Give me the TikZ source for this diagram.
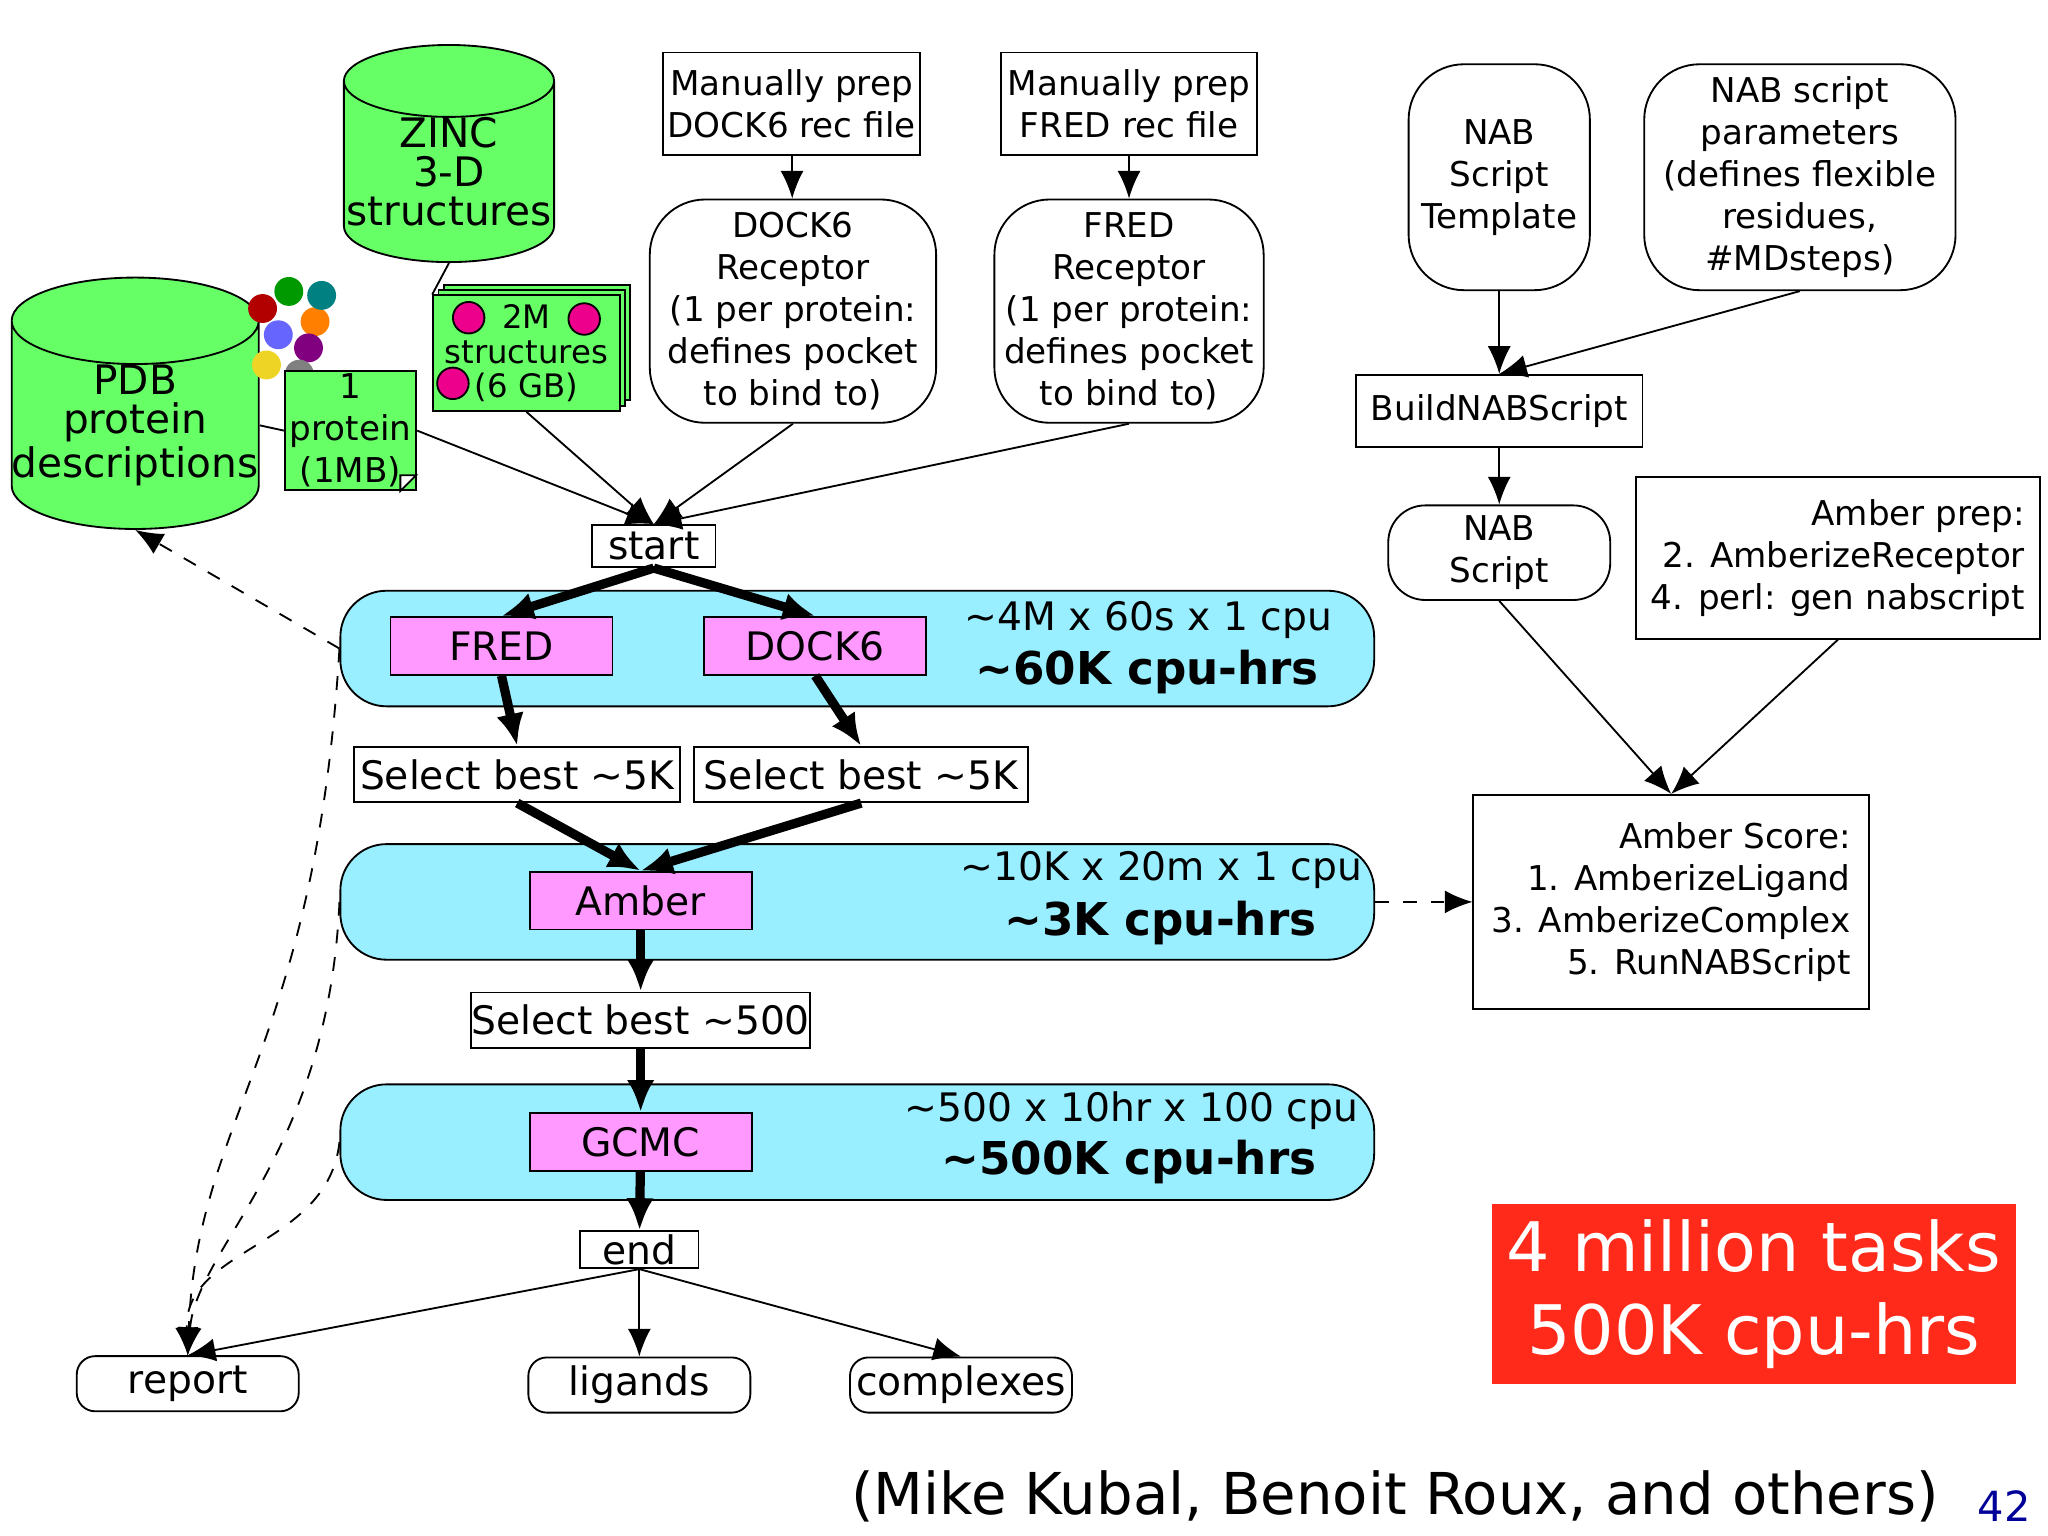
\documentclass[tikz,border=0pt]{standalone}
\usepackage{fontspec}
\setmainfont{DejaVu Sans}
\usetikzlibrary{shapes.geometric,shapes.misc,arrows.meta,positioning}
\definecolor{zgreen}{HTML}{66FF66}
\definecolor{band}{HTML}{99EEFF}
\definecolor{stage}{HTML}{FF99FF}
\definecolor{redbox}{HTML}{FF2A1A}
\tikzset{
  fs/.style={font=\fontsize{7.4}{9.1}\selectfont},
  fm/.style={font=\fontsize{8.5}{9.5}\selectfont},
  box/.style={draw,fs,align=center,inner sep=1pt},
  rbox/.style={box,rounded corners=12pt},
  stagebox/.style={draw,fill=stage,fm,minimum width=1.69cm,minimum height=0.44cm,inner sep=0pt},
  bandbox/.style={draw,fill=band,rounded corners=10pt,minimum width=7.87cm,minimum height=0.88cm,inner sep=0pt},
  sel/.style={draw,fm,inner sep=0pt,minimum height=0.42cm},
  result/.style={draw,fm,rounded corners=4pt,minimum width=1.69cm,minimum height=0.42cm,inner sep=0pt},
  tarr/.style={-{Latex[length=6pt,width=5pt]},thin},
  thick arr/.style={-{Latex[length=7pt,width=6pt]},line width=2pt},
  darr/.style={-{Latex[length=6pt,width=5pt]},dashed,thin},
  can/.style={draw,cylinder,shape border rotate=90,aspect=0.35,fill=zgreen,font=\fontsize{8.8}{8.4}\selectfont,align=center,inner sep=0pt},
  doc/.style={draw,fill=zgreen,fs,align=center,inner sep=0pt}
}
\begin{document}
\begin{tikzpicture}[x=0.01cm,y=-0.01cm]
\useasboundingbox (0,0) rectangle (1560,1170);
% sources
\node[can,minimum width=1.6cm,minimum height=1.65cm] (zinc) at (342,131) {ZINC\\3-D\\structures};
\node[can,minimum width=1.87cm,minimum height=1.53cm] (pdb) at (103,324) {PDB\\protein\\descriptions};
% protein picture
\foreach \x/\y/\c in {200/235/red!70!black,220/222/green!60!black,240/245/orange,212/255/blue!60,235/265/violet,203/278/yellow!70!brown,245/225/teal,228/285/gray}
  \fill[\c] (\x,\y) circle (11);
\foreach \o in {8,4} \draw[fill=zgreen] (330+\o,225-\o) rectangle (472+\o,313-\o);
\node[doc,minimum width=1.42cm,minimum height=0.88cm,font=\fontsize{7}{7.4}\selectfont] (twom) at (401,269) {2M\\structures\\(6 GB)};
\foreach \x/\y in {357/242,445/243,345/292} \draw[fill=magenta] (\x,\y) circle (12);
\node[doc,minimum width=1cm,minimum height=0.91cm] (prot) at (267,328) {1\\protein\\(1MB)};
\draw[fill=white] (317,362) -- (305,374) -- (305,362) -- cycle;
% receptors
\node[box,minimum width=1.95cm,minimum height=0.78cm] (mdock) at (603,79) {Manually prep\\DOCK6 rec file};
\node[box,minimum width=1.95cm,minimum height=0.78cm] (mfred) at (860,79) {Manually prep\\FRED rec file};
\node[rbox,minimum width=2.18cm,minimum height=1.7cm] (dock) at (604,237) {DOCK6\\Receptor\\(1 per protein:\\defines pocket\\to bind to)};
\node[rbox,minimum width=2.05cm,minimum height=1.7cm] (fred) at (860,237) {FRED\\Receptor\\(1 per protein:\\defines pocket\\to bind to)};
% NAB side
\node[rbox,minimum width=1.38cm,minimum height=1.72cm] (tmpl) at (1142,135) {NAB\\Script\\Template};
\node[rbox,minimum width=2.37cm,minimum height=1.72cm] (par) at (1371,135) {NAB script\\parameters\\(defines flexible\\residues,\\\#MDsteps)};
\node[box,minimum width=2.18cm,minimum height=0.55cm] (build) at (1142,313) {BuildNABScript};
\node[rbox,rounded corners=8pt,minimum width=1.69cm,minimum height=0.72cm] (nab) at (1142,421) {NAB\\Script};
\node[box,align=right,minimum width=3.07cm,minimum height=1.23cm] (prep) at (1400,425) {Amber prep:\\2. AmberizeReceptor\\4. perl: gen nabscript};
\node[box,align=right,minimum width=2.87cm,minimum height=1.63cm,inner sep=4pt] (score) at (1273,687) {Amber Score:\\1. AmberizeLigand\\3. AmberizeComplex\\5. RunNABScript};
% pipeline
\node[sel,minimum width=0.94cm,minimum height=0.32cm] (start) at (498,416) {start};
\node[bandbox] (b1) at (653,494) {};
\node[bandbox] (b2) at (653,687) {};
\node[bandbox] (b3) at (653,870) {};
\node[stagebox] (sfred) at (382,492) {FRED};
\node[stagebox] (sdock) at (621,492) {DOCK6};
\node[fm,anchor=east] at (1027,472) {\textasciitilde 4M x 60s x 1 cpu};
\node[font=\fontsize{9.8}{10}\selectfont\bfseries,anchor=east] at (1017,512) {\textasciitilde 60K cpu-hrs};
\node[sel,minimum width=2.48cm] (sel1) at (394,590) {Select best \textasciitilde 5K};
\node[sel,minimum width=2.54cm] (sel2) at (656,590) {Select best \textasciitilde 5K};
\node[stagebox] (samber) at (488,686) {Amber};
\node[fm,anchor=east] at (1050,663) {\textasciitilde 10K x 20m x 1 cpu};
\node[font=\fontsize{9.8}{10}\selectfont\bfseries,anchor=east] at (1015,703) {\textasciitilde 3K cpu-hrs};
\node[sel,minimum width=2.56cm] (sel3) at (488,777) {Select best \textasciitilde 500};
\node[stagebox] (sgcmc) at (488,870) {GCMC};
\node[fm,anchor=east] at (1047,846) {\textasciitilde 500 x 10hr x 100 cpu};
\node[font=\fontsize{9.8}{10}\selectfont\bfseries,anchor=east] at (1015,885) {\textasciitilde 500K cpu-hrs};
\node[sel,minimum width=0.9cm,minimum height=0.28cm] (end) at (487,952) {end};
\node[result] (report) at (143,1054) {report};
\node[result] (lig) at (487,1055) {ligands};
\node[result] (comp) at (732,1055) {complexes};
\node[fill=redbox,text=white,minimum width=3.97cm,minimum height=1.36cm,align=center,font=\fontsize{14.8}{18}\selectfont] (red) at (1336,986) {4 million tasks\\500K cpu-hrs};
\node[font=\fontsize{12.5}{14}\selectfont,anchor=west] (cap) at (636,1140) {(Mike Kubal, Benoit Roux, and others)};
\node[font=\fontsize{9}{10}\selectfont,text=blue!60!black,anchor=west] (pg) at (1494,1147) {42};
% connectors
\draw (zinc.south) -- (twom.north west);
\draw (pdb.east) -- (prot.west);
\draw[tarr] (twom.south) -- (start.north);
\draw[tarr] (prot.east) -- (start.north);
\draw[tarr] (mdock) -- (dock);
\draw[tarr] (mfred) -- (fred);
\draw[tarr] (dock.south) -- (start.north);
\draw[tarr] (fred.south) -- (start.north);
\draw[tarr] (tmpl) -- (build);
\draw[tarr] (par.south) -- (build.north);
\draw[tarr] (build) -- (nab);
\draw[tarr] (nab.south) -- (score.north);
\draw[tarr] (prep.south) -- (score.north);
\draw[thick arr] (start.south) -- (sfred.north);
\draw[thick arr] (start.south) -- (sdock.north);
\draw[thick arr] (sfred.south) -- (sel1.north);
\draw[thick arr] (sdock.south) -- (sel2.north);
\draw[thick arr] (sel1.south) -- (samber.north);
\draw[thick arr] (sel2.south) -- (samber.north);
\draw[thick arr] (samber) -- (sel3);
\draw[thick arr] (sel3) -- (sgcmc);
\draw[thick arr] (sgcmc) -- (end);
\draw[tarr] (end.south) -- (report.north);
\draw[tarr] (end.south) -- (lig.north);
\draw[tarr] (end.south) -- (comp.north);
\draw[darr] (b2.east) -- (score.west);
\draw[darr] (b1.west) -- (pdb.south);
\draw[darr] (b1.west) .. controls (240,800) and (150,850) .. (report.north);
\draw[darr] (b2.west) .. controls (250,880) and (150,950) .. (report.north);
\draw[darr] (b3.west) .. controls (250,950) and (140,950) .. (report.north);
\end{tikzpicture}
\end{document}
